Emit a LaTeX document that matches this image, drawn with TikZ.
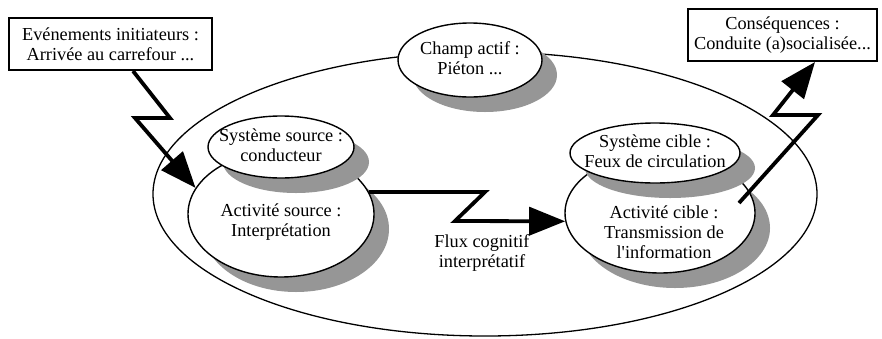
\documentclass[tikz,border=0pt]{standalone}
\usepackage{fontspec}
\setmainfont{Liberation Serif}
\usetikzlibrary{shapes.geometric,shadows,arrows.meta}
\definecolor{shadowgray}{RGB}{150,150,150}
\begin{document}
\begin{tikzpicture}[x=1pt,y=-1pt,
  bubble/.style={ellipse, draw, fill=white, line width=1.4pt, inner sep=0pt,
    drop shadow={shadow xshift=15pt, shadow yshift=-15pt, fill=shadowgray, opacity=1}},
  bigfield/.style={ellipse, draw, line width=1.3pt, inner sep=0pt},
  txt/.style={font=\fontsize{18.3}{20}\selectfont, align=center, inner sep=0pt},
  infobox/.style={draw, line width=2pt, fill=white, inner sep=0pt,
    font=\fontsize{18.3}{20}\selectfont, align=center},
  boltarrow/.style={line width=3.8pt, line join=miter, miter limit=10,
    -{Triangle[length=36pt,width=28pt]}}
]
\useasboundingbox (0,0) rectangle (882,338);

% large field ellipse
\node[bigfield, minimum width=664pt, minimum height=284pt] (fld) at (485,194) {};

% champ actif
\node[bubble, minimum width=144pt, minimum height=74pt] (ca) at (470,60) {};
\node[txt] at (470,58) {Champ actif :\\Piéton ...};

% source side
\node[bubble, minimum width=186pt, minimum height=126pt] (as) at (281,214) {};
\node[bubble, minimum width=146pt, minimum height=62pt] (ss) at (281,147) {};
\node[txt] at (281,222) {Activité source :\\Interprétation};
\node[txt] at (281,145) {Système source :\\conducteur};

% target side
\node[bubble, minimum width=190pt, minimum height=120pt] (ac) at (660,213) {};
\node[bubble, minimum width=170pt, minimum height=60pt] (sc) at (655,153) {};
\node[txt] at (664,232) {Activité cible :\\Transmission de\\l\textquotesingle information};
\node[txt] at (655,151) {Système cible :\\Feux de circulation};

% flux label
\node[txt] (fx) at (482,253) {Flux cognitif\\interprétatif};

% boxes
\node[infobox, minimum width=203pt, minimum height=52pt] (ev) at (110.5,44)
  {Evénements initiateurs :\\Arrivée au carrefour ...};
\node[infobox, minimum width=189pt, minimum height=52pt] (cq) at (782.5,35)
  {Conséquences :\\Conduite (a)socialisée...};

% lightning connectors
\coordinate (l1) at (170,118);
\coordinate (l2) at (135,118);
\draw[boltarrow] ([xshift=22.5pt]ev.south) -- (l1) -- (l2) -- (as.163);

\coordinate (m1) at (485,192);
\coordinate (m2) at (455,221);
\draw[boltarrow] (as.14) -- (m1) -- (m2) -- (ac.185);

\coordinate (r0) at ([shift={(79,-10)}]ac.center);
\coordinate (r1) at (818,115);
\coordinate (r2) at (773,115);
\draw[boltarrow] (r0) -- (r1) -- (r2) -- ([xshift=32.5pt]cq.south);
\end{tikzpicture}
\end{document}
